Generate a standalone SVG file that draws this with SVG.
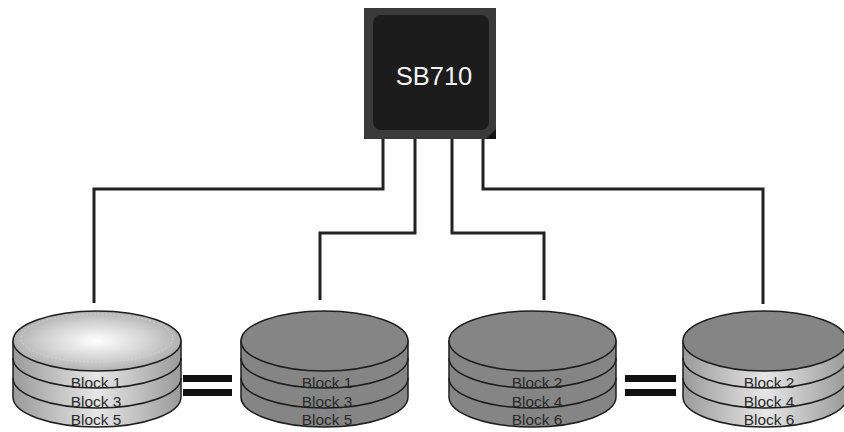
<svg xmlns="http://www.w3.org/2000/svg" width="844" height="432" viewBox="0 0 844 432">
<style>
.conn{fill:none;stroke:#222;stroke-width:3;stroke-linejoin:miter}
.ol{stroke:#1e1e1e;stroke-width:1.5}
.arc{fill:none;stroke:#1e1e1e;stroke-width:1.5}
.lbl{font-family:"Liberation Sans",Arial,sans-serif;font-size:15.4px;fill:#2a2a2a;text-anchor:middle}
.bar{fill:#111}
</style>
<defs>
<radialGradient id="topLight" cx="0.5" cy="0.5" r="0.55">
<stop offset="0" stop-color="#ffffff"/>
<stop offset="0.6" stop-color="#cfcfcf"/>
<stop offset="1" stop-color="#a8a8a8"/>
</radialGradient>
<linearGradient id="sideLight" x1="0" y1="0" x2="1" y2="0">
<stop offset="0" stop-color="#9a9a9a"/>
<stop offset="0.5" stop-color="#e6e6e6"/>
<stop offset="1" stop-color="#9a9a9a"/>
</linearGradient>
</defs>
<rect width="844" height="432" fill="#fff"/>

<g id="connectors">
<polyline class="conn" points="383,139 383,189 94,189 94,303"/>
<polyline class="conn" points="415,139 415,233 320,233 320,300"/>
<polyline class="conn" points="452,139 452,233 544,233 544,300"/>
<polyline class="conn" points="483,139 483,189 763,189 763,304"/>
</g>

<g id="chip">
<rect x="364" y="8" width="132" height="131" fill="#3a3a3a"/>
<polygon points="496,129 496,139 486,139" fill="#141414"/>
<rect x="373" y="15" width="116" height="115" rx="8" fill="#1c1c1c"/>
<text x="434" y="85" font-family="&quot;Liberation Sans&quot;,Arial,sans-serif" font-size="25.5" fill="#f2f2f2" text-anchor="middle">SB710</text>
</g>

<g id="disk1">
<path class="ol" fill="url(#sideLight)" d="M13,341 L13,397 A84,30 0 0 0 181,397 L181,341 Z"/>
<path class="arc" d="M13,358 A84,30 0 0 0 181,358"/>
<path class="arc" d="M13,378 A84,30 0 0 0 181,378"/>
<ellipse class="ol" cx="97" cy="341" rx="84" ry="30" fill="url(#topLight)"/>
<ellipse cx="97" cy="338" rx="76" ry="24" fill="none" stroke="#d8d8d8" stroke-width="0.8" stroke-dasharray="2,2"/>
<text class="lbl" x="96" y="388">Block 1</text>
<text class="lbl" x="96" y="407">Block 3</text>
<text class="lbl" x="96" y="425">Block 5</text>
</g>

<g id="equal1">
<rect class="bar" x="183" y="375" width="49" height="7"/>
<rect class="bar" x="183" y="389" width="49" height="7"/>
</g>

<g id="disk2">
<path class="ol" fill="#858585" d="M241,341 L241,397 A83.5,30 0 0 0 408,397 L408,341 Z"/>
<path class="arc" d="M241,358 A83.5,30 0 0 0 408,358"/>
<path class="arc" d="M241,378 A83.5,30 0 0 0 408,378"/>
<ellipse class="ol" cx="324.5" cy="341" rx="83.5" ry="30" fill="#858585"/>
<text class="lbl" x="327" y="388">Block 1</text>
<text class="lbl" x="327" y="407">Block 3</text>
<text class="lbl" x="327" y="425">Block 5</text>
</g>

<g id="disk3">
<path class="ol" fill="#858585" d="M449,341 L449,397 A83.5,30 0 0 0 616,397 L616,341 Z"/>
<path class="arc" d="M449,358 A83.5,30 0 0 0 616,358"/>
<path class="arc" d="M449,378 A83.5,30 0 0 0 616,378"/>
<ellipse class="ol" cx="532.5" cy="341" rx="83.5" ry="30" fill="#858585"/>
<text class="lbl" x="537" y="388">Block 2</text>
<text class="lbl" x="537" y="407">Block 4</text>
<text class="lbl" x="537" y="425">Block 6</text>
</g>

<g id="equal2">
<rect class="bar" x="625" y="375" width="51" height="7"/>
<rect class="bar" x="625" y="389" width="51" height="7"/>
</g>

<g id="disk4">
<path class="ol" fill="url(#sideLight)" d="M683,341 L683,397 A82,30 0 0 0 847,397 L847,341 Z"/>
<path class="arc" d="M683,358 A82,30 0 0 0 847,358"/>
<path class="arc" d="M683,378 A82,30 0 0 0 847,378"/>
<ellipse class="ol" cx="765" cy="341" rx="82" ry="30" fill="#858585"/>
<text class="lbl" x="769" y="388">Block 2</text>
<text class="lbl" x="769" y="407">Block 4</text>
<text class="lbl" x="769" y="425">Block 6</text>
</g>
</svg>
